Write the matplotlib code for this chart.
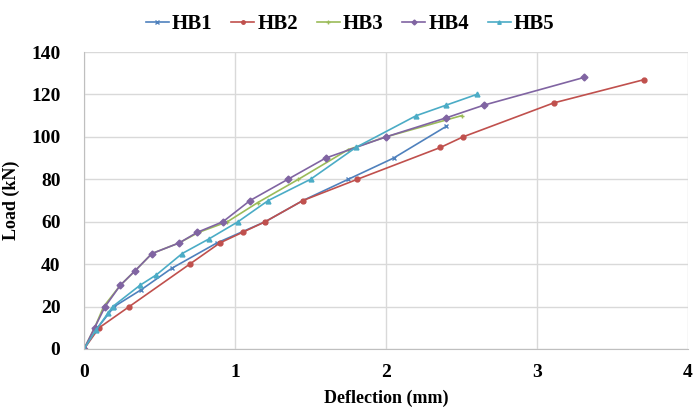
import matplotlib.pyplot as plt

# Load-deflection data
hb1_x = [0, 0.09, 0.2, 0.38, 0.58, 0.88, 1.2, 1.45, 1.75, 2.05, 2.4]
hb1_y = [0, 10, 20, 28, 38, 50, 60, 70, 80, 90, 105]

hb2_x = [0, 0.1, 0.3, 0.7, 0.9, 1.05, 1.2, 1.45, 1.81, 2.36, 2.51, 3.11, 3.71]
hb2_y = [0, 10, 20, 40, 50, 55, 60, 70, 80, 95, 100, 116, 127]

hb3_x = [0, 0.07, 0.13, 0.24, 0.34, 0.45, 0.63, 0.76, 0.95, 1.15, 1.42, 1.75, 2.0, 2.5]
hb3_y = [0, 10, 20, 30, 37, 45, 50, 55, 60, 69, 80, 94, 100, 110]

hb4_x = [0, 0.07, 0.14, 0.24, 0.34, 0.45, 0.63, 0.75, 0.92, 1.1, 1.35, 1.6, 2.0, 2.4, 2.65, 3.31]
hb4_y = [0, 10, 20, 30, 37, 45, 50, 55, 60, 70, 80, 90, 100, 109, 115, 128]

hb5_x = [0, 0.08, 0.16, 0.19, 0.37, 0.48, 0.65, 0.83, 1.02, 1.22, 1.5, 1.8, 2.2, 2.4, 2.6]
hb5_y = [0, 9, 17, 20, 30, 35, 45, 52, 60, 70, 80, 95, 110, 115, 120]

series = [
    ("HB1", hb1_x, hb1_y, "#4F81BD", "x"),
    ("HB2", hb2_x, hb2_y, "#C0504D", "o"),
    ("HB3", hb3_x, hb3_y, "#9BBB59", "+"),
    ("HB4", hb4_x, hb4_y, "#8064A2", "D"),
    ("HB5", hb5_x, hb5_y, "#4BACC6", "^"),
]

plt.rcParams["font.family"] = ["Liberation Serif", "DejaVu Serif"]
plt.rcParams["font.weight"] = "bold"

fig = plt.figure(figsize=(6.96, 4.13), dpi=100)
ax = fig.add_axes([0.1207, 0.155, 0.8678, 0.719])

for name, xs, ys, col, mk in series:
    ax.plot(xs, ys, color=col, marker=mk, markersize=3.5, linewidth=1.2,
            markeredgewidth=1, label=name)

ax.set_xlim(0, 4)
ax.set_ylim(0, 140)
ax.set_xticks([0, 1, 2, 3, 4])
ax.set_yticks(range(0, 141, 20))
ax.grid(True, color="#D9D9D9", linewidth=1)
ax.set_axisbelow(True)
for s in ["top", "right"]:
    ax.spines[s].set_visible(False)
for s in ["left", "bottom"]:
    ax.spines[s].set_color("#BFBFBF")
ax.tick_params(axis="x", length=0, labelsize=14, pad=11)
ax.tick_params(axis="y", length=0, labelsize=14, pad=17)
for lbl in ax.get_xticklabels() + ax.get_yticklabels():
    lbl.set_fontweight("bold")

ax.set_xlabel("Deflection (mm)", fontsize=13, fontweight="bold", labelpad=6)
ax.set_ylabel("Load (kN)", fontsize=13, fontweight="bold", labelpad=8)

leg = fig.legend(loc="upper center", bbox_to_anchor=(0.503, 1.012), ncol=5,
                 frameon=False, handlelength=1.1,
                 handletextpad=0.15, columnspacing=0.9,
                 prop={"weight": "bold", "size": 15})
for h in leg.legend_handles:
    h.set_markersize(2.5)

fig.savefig("out.png", dpi=100)
